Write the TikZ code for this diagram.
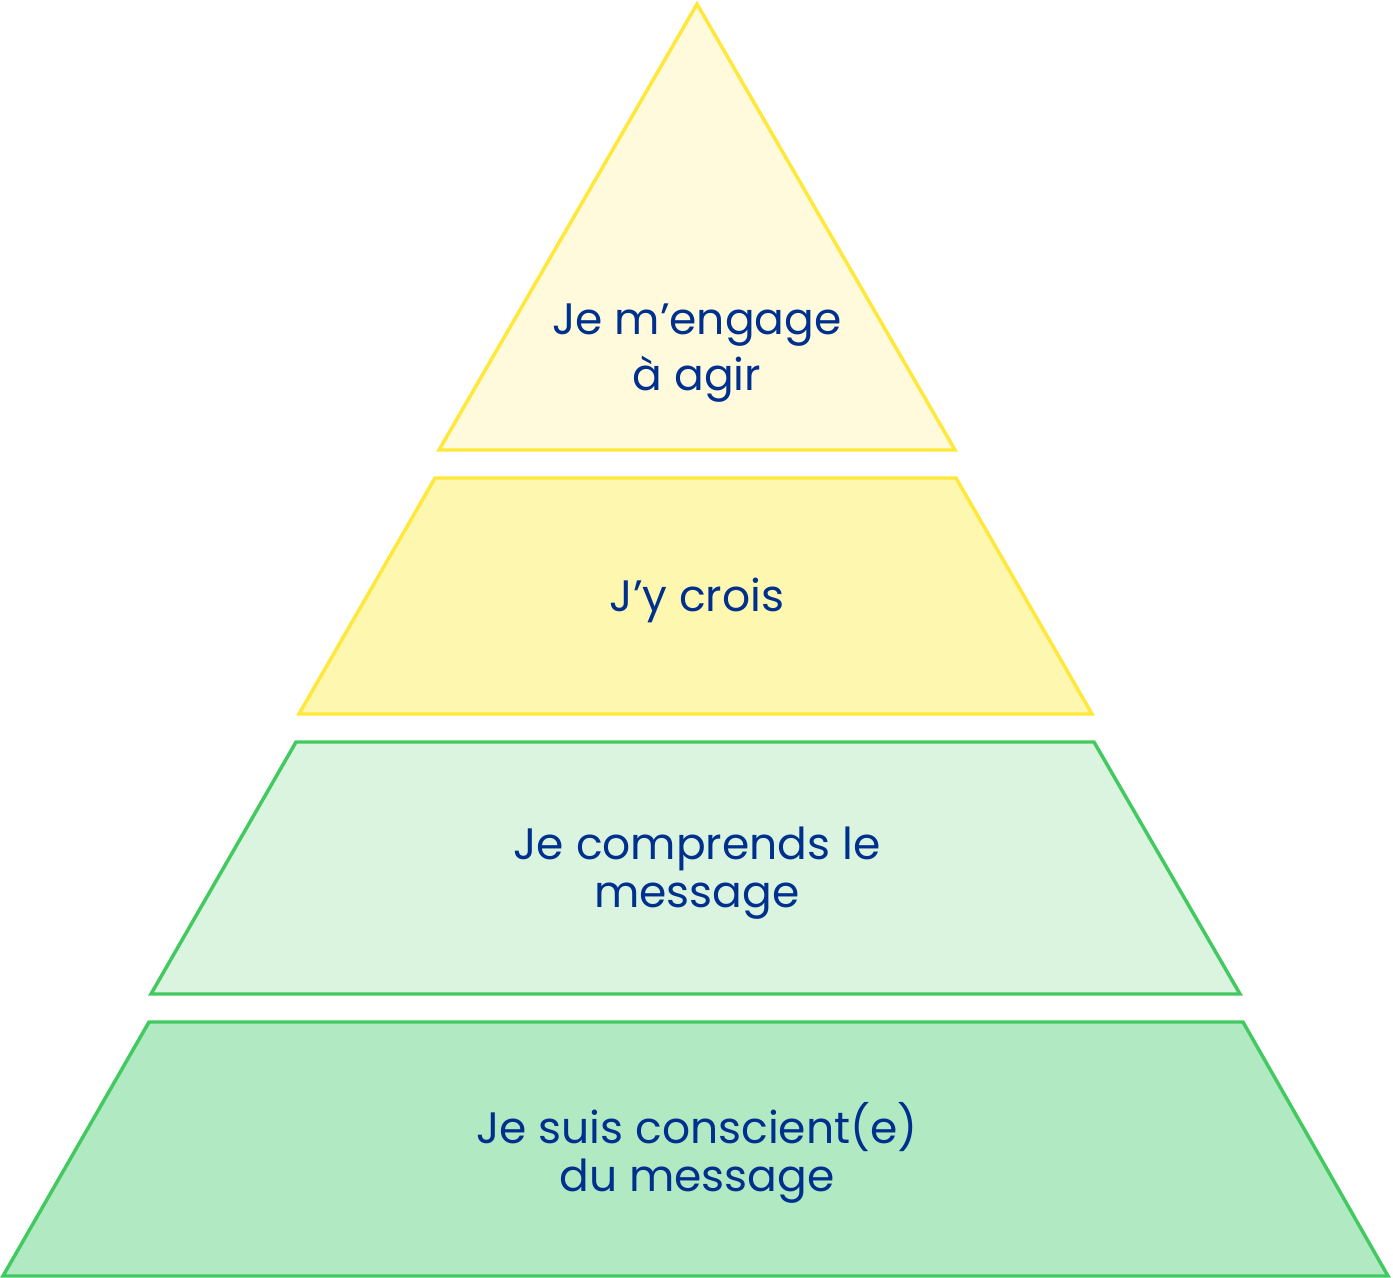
\documentclass[tikz,border=0pt]{standalone}
\usepackage{fontspec}
\setmainfont{Poppins}
\definecolor{lineyellow}{RGB}{255,232,58}
\definecolor{linegreen}{RGB}{66,201,95}
\definecolor{fillone}{RGB}{254,250,219}
\definecolor{filltwo}{RGB}{253,247,176}
\definecolor{fillthree}{RGB}{218,244,223}
\definecolor{fillfour}{RGB}{177,233,194}
\definecolor{textblue}{RGB}{0,48,142}
\tikzset{every picture/.style={line width=2.6pt}}
\tikzset{
  levellabel/.style={text=textblue, align=center, font=\fontsize{33}{36}\selectfont},
}

\begin{document}
\begin{tikzpicture}[x=0.75pt,y=0.75pt,yscale=-1,xscale=1]
\useasboundingbox (0,0) rectangle (1393,1278);

% Top level
\draw [draw=lineyellow, fill=fillone, line join=miter] (697,4) -- (955,450) -- (439,450) -- cycle ;
\node [levellabel, font=\fontsize{33}{42}\selectfont] (act) at (697,353) {Je m’engage\\à agir};

% Second level
\draw [draw=lineyellow, fill=filltwo] (435,478) -- (956,478) -- (1092,714) -- (299,714) -- cycle ;
\node [levellabel] (believe) at (697,600) {J’y crois};

% Third level
\draw [draw=linegreen, fill=fillthree] (296,742) -- (1094,742) -- (1240,994) -- (151,994) -- cycle ;
\node [levellabel] (understand) at (697,873) {Je comprends le\\message};

% Bottom level
\draw [draw=linegreen, fill=fillfour] (149,1022) -- (1243,1022) -- (1388,1276) -- (3,1276) -- cycle ;
\node [levellabel] (aware) at (697,1153) {Je suis conscient(e)\\du message};

\end{tikzpicture}
\end{document}
